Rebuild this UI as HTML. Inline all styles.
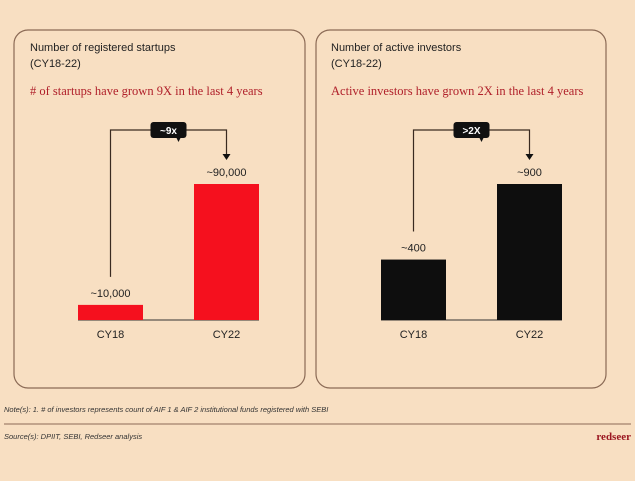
<!DOCTYPE html>
<html><head><meta charset="utf-8"><style>
body{margin:0;width:635px;height:476px;background:#f8dfc2;font-family:"Liberation Sans",sans-serif;overflow:hidden}
</style></head><body>
<svg width="635" height="476">
<rect x="14" y="30" width="291" height="358" rx="14" fill="none" stroke="#8b6a55" stroke-width="1.2"/>
<rect x="316" y="30" width="290" height="358" rx="14" fill="none" stroke="#8b6a55" stroke-width="1.2"/>
<text x="30" y="51" font-size="11" fill="#222">Number of registered startups</text>
<text x="30" y="67" font-size="11" fill="#222">(CY18-22)</text>
<text x="30" y="95" font-size="12.5" fill="#b0202a" font-family="Liberation Serif,serif"># of startups have grown 9X in the last 4 years</text>
<text x="331" y="51" font-size="11" fill="#222">Number of active investors</text>
<text x="331" y="67" font-size="11" fill="#222">(CY18-22)</text>
<text x="331" y="95" font-size="12.5" fill="#b0202a" font-family="Liberation Serif,serif">Active investors have grown 2X in the last 4 years</text>
<g id="charts"></g>
<text x="4" y="412" font-size="7.5" font-style="italic" fill="#333">Note(s): 1. # of investors represents count of AIF 1 &amp; AIF 2 institutional funds registered with SEBI</text>
<line x1="4" y1="424" x2="631" y2="424" stroke="#8b6a55" stroke-width="1"/>
<text x="4" y="439" font-size="7.5" font-style="italic" fill="#333">Source(s): DPIIT, SEBI, Redseer analysis</text>
<text x="631" y="440" font-size="11" font-weight="bold" text-anchor="end" fill="#9a1520" font-family="Liberation Serif,serif">redseer</text>
</svg>
<script>
const categories=["CY18","CY22"];
const startupValues=[10000,90000];
const startupLabels=["~10,000","~90,000"];
const investorValues=[400,900];
const investorLabels=["~400","~900"];
const growthLabels=["~9x",">2X"];
const NS="http://www.w3.org/2000/svg";
const g=document.getElementById("charts");
function mk(t,a,p){const e=document.createElementNS(NS,t);for(const k in a)e.setAttribute(k,a[k]);(p||g).appendChild(e);return e;}
function drawChart(ox,vals,labels,color,growth,name){
  const base=320,maxH=136,maxV=Math.max(...vals);
  const y=v=>base-v/maxV*maxH;
  const xs=[ox,ox+116],w=65;
  const grp=mk("g",{});
  
  
  mk("line",{x1:xs[0],y1:base,x2:xs[1]+w,y2:base,stroke:"#333","stroke-width":1},grp);
  vals.forEach((v,i)=>{
    const r=mk("rect",{x:xs[i],y:y(v),width:w,height:base-y(v),fill:color},grp);
    
    
    const t=mk("text",{x:xs[i]+w/2,y:y(v)-8,"font-size":11,"text-anchor":"middle",fill:"#222"},grp);
    t.textContent=labels[i];
    
    
    const c=mk("text",{x:xs[i]+w/2,y:base+18,"font-size":11,"text-anchor":"middle",fill:"#222"},grp);
    c.textContent=categories[i];
    
    
  });
  const lx=xs[0]+w/2,rx=xs[1]+w/2,ty=130;
  const p=mk("path",{d:`M${lx} ${y(vals[0])-28} V${ty} H${rx} V${y(vals[1])-30}`,fill:"none",stroke:"#3a2a20","stroke-width":1.2},grp);
  
  
  mk("path",{d:`M${rx-4} ${y(vals[1])-30} L${rx+4} ${y(vals[1])-30} L${rx} ${y(vals[1])-24}Z`,fill:"#111"},grp);
  const bx=(lx+rx)/2-18;
  const b=mk("rect",{x:bx,y:ty-8,width:36,height:16,rx:3,fill:"#111"},grp);
  
  
  mk("path",{d:`M${bx+26} ${ty+8} l4 0 l-2 4z`,fill:"#111"},grp);
  const bt=mk("text",{x:bx+18,y:ty+4,"font-size":10,"font-weight":"bold","text-anchor":"middle",fill:"#fff"},grp);
  bt.textContent=growth;
}
drawChart(78,startupValues,startupLabels,"#f5101e",growthLabels[0],"startups-chart");
drawChart(381,investorValues,investorLabels,"#0e0e0e",growthLabels[1],"investors-chart");
</script>
</body></html>
